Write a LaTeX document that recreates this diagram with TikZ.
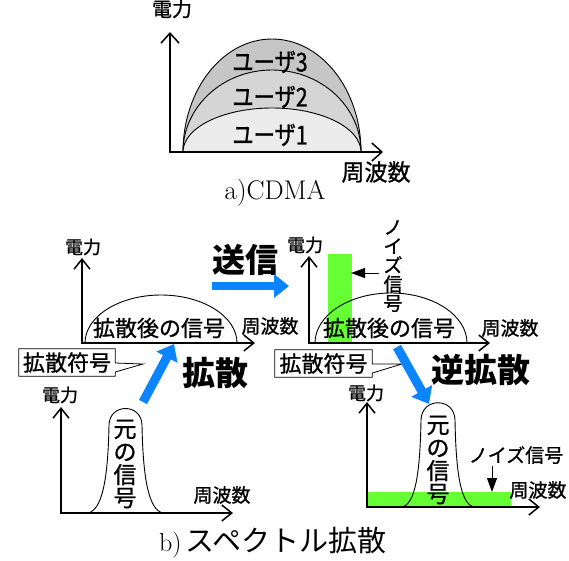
\documentclass[tikz,border=0pt]{standalone}
\usepackage{fontspec}
\newfontfamily\cjk{Noto Sans CJK JP}[FakeBold=1]
\newfontfamily\cjkplain{Noto Sans CJK JP}
\usetikzlibrary{arrows.meta}
\definecolor{sigblue}{RGB}{10,132,255}
\definecolor{noisegreen}{RGB}{102,255,51}
\tikzset{
  axisline/.style={line width=1.6pt, line join=miter,
    {Straight Barb[length=10pt,width=18pt,line width=1.5pt]}-{Straight Barb[length=10pt,width=18pt,line width=1.5pt]}},
  axissmall/.style={line width=1.6pt, line join=miter,
    {Straight Barb[length=10pt,width=16pt,line width=1.5pt]}-{Straight Barb[length=10pt,width=16pt,line width=1.5pt]}},
  curve/.style={line width=0.9pt},
  lbl/.style={inner sep=0pt, font=\cjk\fontsize{#1}{#1}\selectfont},
  lbl/.default=18,
  vlbl/.style={inner sep=0pt, align=center, font=\cjk\fontsize{#1}{#1}\selectfont},
  ulbl/.style={inner sep=0pt, xscale=0.82, transform shape, font=\cjk\fontsize{26}{26}\selectfont},
  big/.style={inner sep=0pt, font=\cjkplain\bfseries\fontsize{33}{33}\selectfont},
  bluearrow/.style={draw=sigblue, line width=#1, -{Triangle[length=15pt,width=23pt]}},
  noisearrow/.style={line width=1pt, -{Triangle[length=14pt,width=10pt]}},
}
\begin{document}
\begin{tikzpicture}[x=1pt,y=-1pt]
\useasboundingbox[fill=white] (0,0) rectangle (569,560);

% ---------------- a) CDMA ----------------
\filldraw[fill=gray!45, curve] (183,152) .. controls (183,89.6) and (222.8,39) .. (272,39)
  .. controls (321.2,39) and (361,89.6) .. (361,152) -- cycle;
\filldraw[fill=gray!33, curve] (183,152) .. controls (183,106.7) and (222.8,70) .. (272,70)
  .. controls (321.2,70) and (361,106.7) .. (361,152) -- cycle;
\filldraw[fill=gray!15, curve] (183,152) .. controls (183,127.7) and (222.8,108) .. (272,108)
  .. controls (321.2,108) and (361,127.7) .. (361,152) -- cycle;
\coordinate (aY) at (170,32);
\coordinate (aO) at (170,152);
\coordinate (aX) at (383,152);
\draw[axisline] (aY) -- (aO) -- (aX);
\node[lbl=20] (aP) at (172,9) {電力};
\node[lbl=23] (aF) at (376,172) {周波数};
\node[ulbl] (u3) at (270,62) {ユーザ3};
\node[ulbl] (u2) at (270,97) {ユーザ2};
\node[ulbl] (u1) at (270,135) {ユーザ1};
\node[inner sep=0pt, font=\fontsize{27}{27}\selectfont] (capA) at (275,193) {a)CDMA};

% ---------------- b) left upper ----------------
\coordinate (lY) at (82,258);
\coordinate (lO) at (82,343);
\coordinate (lX) at (255,343);
\draw[curve] (85,343) .. controls (85,316.5) and (119,295) .. (161,295)
  .. controls (203,295) and (237,316.5) .. (237,343);
\draw[axissmall] (lY) -- (lO) -- (lX);
\node[lbl=18] (lP) at (83,247) {電力};
\node[lbl=22] (lS) at (159,328) {拡散後の信号};
\node[lbl=19] (lF) at (270,326) {周波数};
\node[big] (send) at (245,260) {送信};
\coordinate (sendA) at (212,286);
\coordinate (sendB) at (289,286);
\draw[bluearrow=8pt] (sendA) -- (sendB);

% callout left
\node[lbl=22, minimum width=96pt, minimum height=27pt] (cb1) at (67,362.5) {拡散符号};
\coordinate (tip1) at (143,364);
\draw[line width=0.8pt, fill=white] (cb1.north west) -- (cb1.north east) -- ([yshift=-0.5pt]cb1.east)
  -- (tip1) -- ([yshift=-9.5pt]cb1.east) -- (cb1.south east) -- (cb1.south west) -- cycle;
\node[lbl=22] (cb1t) at (cb1) {拡散符号};
\node[big] (spread) at (215,373) {拡散};
\coordinate (spA) at (143,402);
\coordinate (spB) at (174,344);
\draw[bluearrow=9pt] (spA) -- (spB);

% ---------------- b) left lower ----------------
\coordinate (llY) at (61,407);
\coordinate (llO) at (61,513);
\coordinate (llX) at (233,513);
\draw[curve] (88,513) .. controls (102,510) and (108,480) .. (109,425)
  .. controls (109.5,403) and (141.5,403) .. (142,425)
  .. controls (143,480) and (149,510) .. (163,513);
\draw[axissmall] (llY) -- (llO) -- (llX);
\node[lbl=18] (llP) at (60,395) {電力};
\node[vlbl=23] (orig1) at (125,464) {\baselineskip=21pt 元\\の\\信\\号};
\node[lbl=19] (llF) at (222,495) {周波数};

% ---------------- b) right upper ----------------
\fill[noisegreen] (328,254) rectangle (352,343);
\coordinate (rY) at (309,256);
\coordinate (rO) at (309,343);
\coordinate (rX) at (490,343);
\draw[curve] (315,343) .. controls (315,315.4) and (349,293) .. (391,293)
  .. controls (433,293) and (467,315.4) .. (467,343);
\draw[axissmall] (rY) -- (rO) -- (rX);
\node[lbl=18] (rP) at (305,245) {電力};
\node[lbl=22] (rS) at (389,328) {拡散後の信号};
\node[lbl=19] (rF) at (510,328) {周波数};
\node[vlbl=19] (noiseV) at (393,266) {\baselineskip=17pt ノ\\イ\\ズ\\信\\号};
\coordinate (nA) at (379,273);
\coordinate (nB) at (351,273);
\draw[noisearrow] (nA) -- (nB);

% callout right
\node[lbl=22, minimum width=97pt, minimum height=27pt] (cb2) at (323.5,363.5) {拡散符号};
\coordinate (tip2) at (402,364);
\draw[line width=0.8pt, fill=white] (cb2.north west) -- (cb2.north east) -- ([yshift=-0.5pt]cb2.east)
  -- (tip2) -- ([yshift=-9.5pt]cb2.east) -- (cb2.south east) -- (cb2.south west) -- cycle;
\node[lbl=22] (cb2t) at (cb2) {拡散符号};
\node[big] (despread) at (481,370) {逆拡散};
\coordinate (dsA) at (397,347);
\coordinate (dsB) at (429,404);
\draw[bluearrow=9pt] (dsA) -- (dsB);

% ---------------- b) right lower ----------------
\fill[noisegreen] (367,492) rectangle (511,507);
\coordinate (rrY) at (367,402);
\coordinate (rrO) at (367,507);
\coordinate (rrX) at (540,507);
\draw[curve] (402,507) .. controls (415,504) and (420,475) .. (421,420)
  .. controls (421.5,397) and (454.5,397) .. (455,420)
  .. controls (456,475) and (461,504) .. (474,507);
\draw[axissmall] (rrY) -- (rrO) -- (rrX);
\node[lbl=18] (rrP) at (366,393) {電力};
\node[vlbl=23] (orig2) at (438,460) {\baselineskip=21pt 元\\の\\信\\号};
\node[lbl=19] (noiseH) at (516,455) {ノイズ信号};
\coordinate (nC) at (492,466);
\coordinate (nD) at (492,492);
\draw[noisearrow] (nC) -- (nD);
\node[lbl=19] (rrF) at (538,490) {周波数};

% caption b
\node[inner sep=0pt] (capB) at (273,543) {\fontsize{26}{26}\selectfont b)\,\cjkplain\fontsize{29}{29}\selectfont スペクトル拡散};
\end{tikzpicture}
\end{document}
